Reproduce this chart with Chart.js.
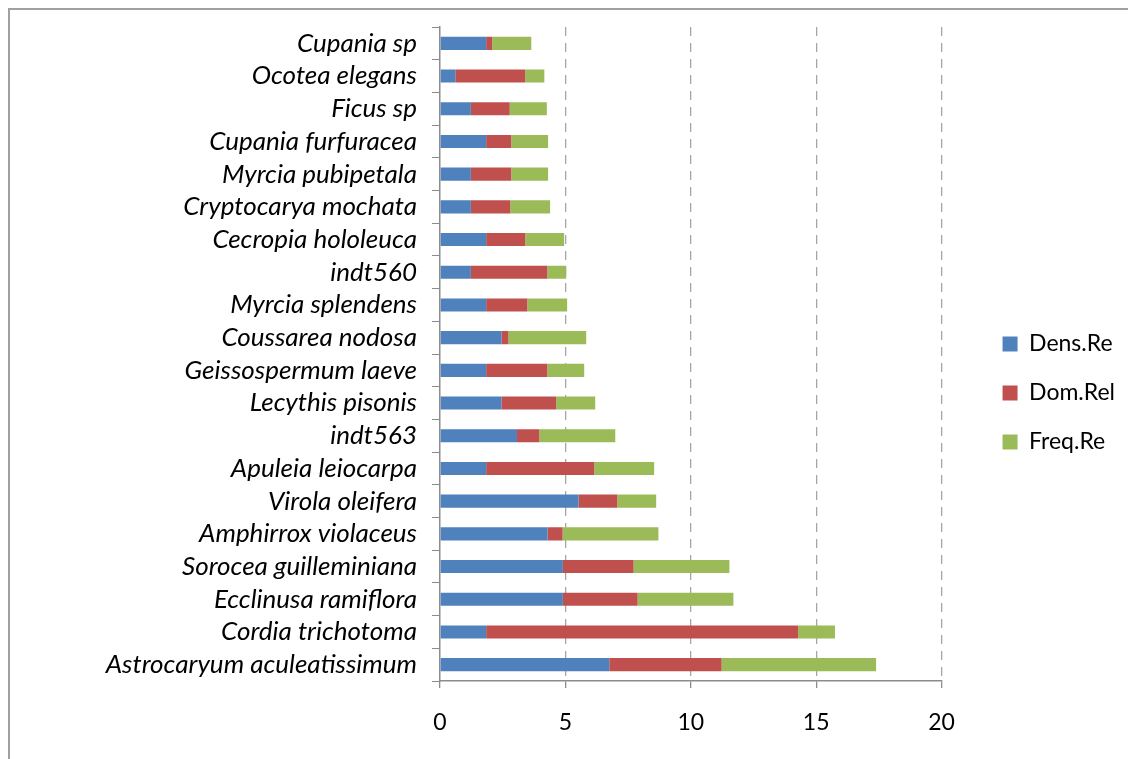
<!DOCTYPE html>
<html>
<head>
<meta charset="utf-8">
<script src="https://cdn.jsdelivr.net/npm/chart.js@4.4.1/dist/chart.umd.min.js"></script>
<style>
  html, body { margin: 0; padding: 0; background: #fff; overflow: hidden; }
  #wrap { position: relative; width: 1128px; height: 759px; }
  #frame { position: absolute; left: 8px; top: 8px; width: 1200px; height: 800px; border: 2px solid #a0a0a0; box-sizing: border-box; pointer-events: none; }
</style>
</head>
<body>
<div id="wrap">
  <canvas id="chart" width="1128" height="759"></canvas>
  <div id="frame"></div>
</div>
<script>
// Espécies (de cima para baixo)
const species = [
  "Cupania sp", "Ocotea elegans", "Ficus sp", "Cupania furfuracea", "Myrcia pubipetala",
  "Cryptocarya mochata", "Cecropia hololeuca", "indt560", "Myrcia splendens", "Coussarea nodosa",
  "Geissospermum laeve", "Lecythis pisonis", "indt563", "Apuleia leiocarpa", "Virola oleifera",
  "Amphirrox violaceus", "Sorocea guilleminiana", "Ecclinusa ramiflora", "Cordia trichotoma",
  "Astrocaryum aculeatissimum"
];
const densRe = [1.84, 0.61, 1.23, 1.84, 1.23, 1.23, 1.84, 1.23, 1.84, 2.45,
                1.84, 2.45, 3.07, 1.84, 5.52, 4.29, 4.90, 4.90, 1.84, 6.75];
const domRel = [0.24, 2.79, 1.55, 1.00, 1.61, 1.57, 1.56, 3.05, 1.64, 0.28,
                2.44, 2.18, 0.89, 4.31, 1.55, 0.60, 2.82, 2.98, 12.44, 4.48];
const freqRe = [1.56, 0.76, 1.48, 1.47, 1.47, 1.59, 1.55, 0.75, 1.59, 3.10,
                1.47, 1.56, 3.03, 2.39, 1.55, 3.82, 3.82, 3.82, 1.47, 6.16];
const xTicks = [0, 5, 10, 15, 20];

const font = "Lato, 'Open Sans', sans-serif";
const gridGrey = "#a6a6a6";
const noPad = s => { s.paddingTop = 0; s.paddingBottom = 0; s.paddingLeft = 0; s.paddingRight = 0; };

new Chart(document.getElementById("chart"), {
  type: "bar",
  data: {
    labels: species,
    datasets: [
      { label: "Dens.Re", data: densRe, backgroundColor: "#4F81BD" },
      { label: "Dom.Rel", data: domRel, backgroundColor: "#C0504D" },
      { label: "Freq.Re", data: freqRe, backgroundColor: "#9BBB59" }
    ]
  },
  options: {
    indexAxis: "y",
    responsive: false,
    animation: false,
    barPercentage: 0.8,
    categoryPercentage: 0.5,
    layout: { padding: { top: 27, left: 0, right: 3, bottom: 0 } },
    plugins: {
      tooltip: { enabled: false },
      legend: {
        position: "right",
        labels: {
          boxWidth: 15, boxHeight: 15, padding: 26, color: "#000",
          font: { family: font, size: 23 }
        }
      }
    },
    scales: {
      x: {
        stacked: true,
        min: 0, max: 20,
        afterBuildTicks: s => { s.ticks = xTicks.map(v => ({ value: v })); },
        afterFit: s => { s.height = 78; noPad(s); },
        border: { display: true, color: "#8c8c8c", width: 1.5, dash: [9, 7] },
        grid: {
          color: c => (c.tick && c.tick.value === 0 ? "rgba(0,0,0,0)" : gridGrey),
          tickColor: "#8c8c8c",
          lineWidth: 1.3, tickLength: 7, tickBorderDash: []
        },
        ticks: { padding: 21, color: "#000", font: { family: font, size: 23 } }
      },
      y: {
        stacked: true,
        afterFit: s => { s.width = 440; noPad(s); },
        border: { display: true, color: "#8c8c8c", width: 1.5 },
        grid: { drawOnChartArea: false, color: "#8c8c8c", tickLength: 8 },
        ticks: { autoSkip: false, padding: 15, color: "#000", font: { family: font, size: 26, style: "italic" } }
      },
      gap: {
        type: "category",
        position: "right",
        grid: { display: false },
        border: { display: false },
        ticks: { display: false },
        afterFit: s => { s.width = 35; noPad(s); }
      }
    }
  }
});
</script>
</body>
</html>
